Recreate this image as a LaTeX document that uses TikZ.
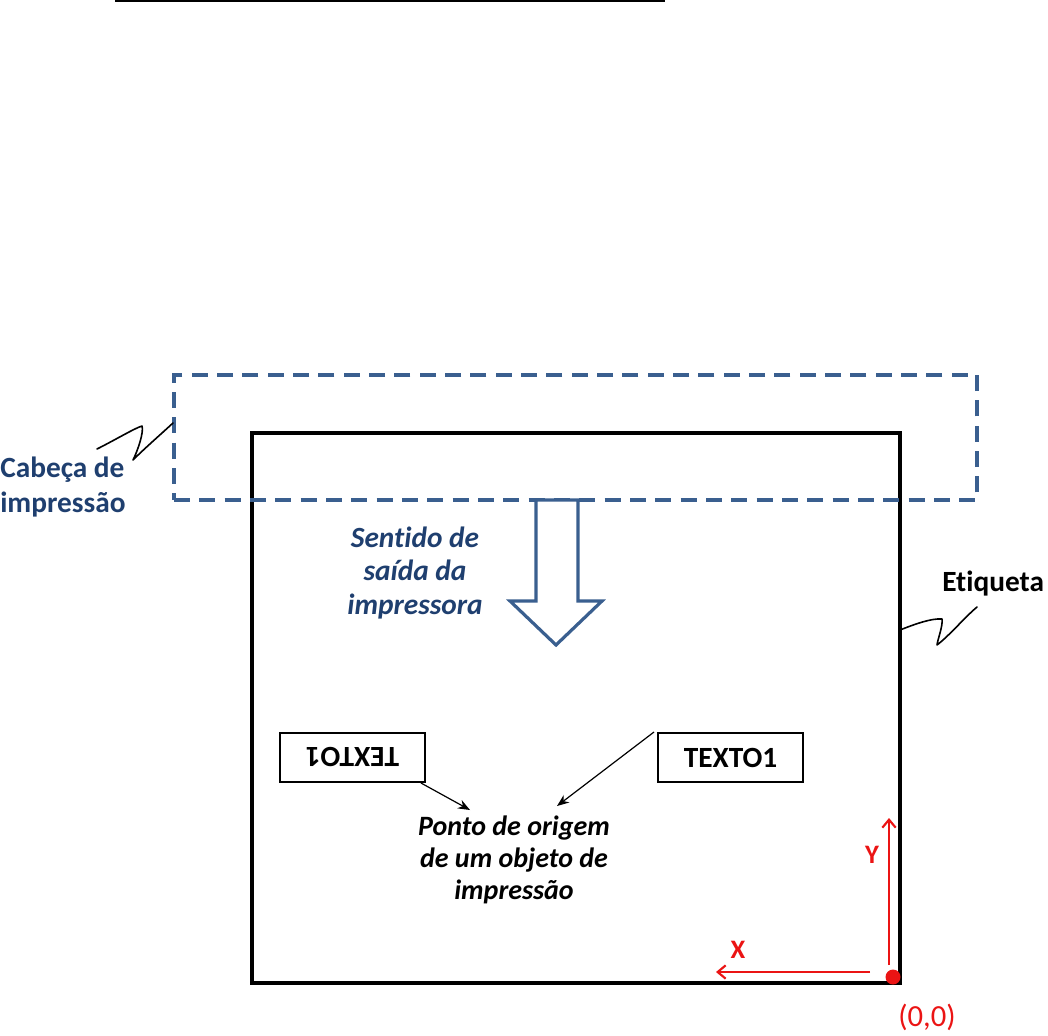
\documentclass[tikz,border=0pt]{standalone}
\usepackage{fontspec}
\setmainfont[Ligatures={NoCommon}]{Carlito}
\usetikzlibrary{arrows.meta}
\definecolor{headblue}{RGB}{58,95,143}
\definecolor{txtblue}{RGB}{31,63,111}
\definecolor{axred}{RGB}{235,20,20}
\tikzset{
  px/.style={x=0.75pt,y=-0.75pt},
  lbl/.style={font=\fontsize{22}{26}\selectfont\bfseries, inner sep=0pt},
  ilbl/.style={font=\fontsize{22}{25}\selectfont\bfseries\itshape, inner sep=0pt, align=center},
  txtbox/.style={draw=black, line width=1.5pt, minimum width=145*0.75pt, minimum height=49*0.75pt, inner sep=0pt, font=\fontsize{22}{26}\selectfont\bfseries},
  zig/.style={draw=black, line width=1.2pt, line cap=round, line join=round},
  ptr/.style={draw=black, line width=0.9pt, -{Stealth[length=9pt,width=7pt]}},
  axis/.style={draw=axred, line width=1.6pt, -{Straight Barb[length=6pt,width=10pt]}},
}
\begin{document}
\begin{tikzpicture}[px]
\useasboundingbox (0,0) rectangle (1048,1035);
% top line
\draw[line width=2pt] (115,1) -- (665,1);
% label (etiqueta)
\node[draw=black, line width=2.7pt, minimum width=648*0.75pt, minimum height=550*0.75pt, inner sep=0pt] (label) at (576,708) {};
% print head
\node[draw=headblue, line width=2.6pt, dash pattern=on 12pt off 7pt, minimum width=803*0.75pt, minimum height=125*0.75pt, inner sep=0pt] (head) at (575.5,437.5) {};
% hollow arrow
\draw[draw=headblue, line width=2.4pt, fill=white, line join=miter]
  (536,500) -- (578,500) -- (578,601) -- (602,601) -- (556,645) -- (510,601) -- (536,601) -- cycle;
\node[ilbl, text=txtblue] (sentido) at (415,573) {Sentido de\\saída da\\impressora};
% Cabeça label
\node[lbl, text=txtblue, align=left, anchor=west] (cab) at (0,487) {Cabeça de\\impressão};
\coordinate (z1a) at (97,449);
\coordinate (z1b) at (173,423);
\draw[zig] (z1a) .. controls (115,440) and (135,428) .. (142,426) .. controls (144,432) and (138,450) .. (133,460) .. controls (145,448) and (160,435) .. (z1b);
% Etiqueta label
\node[lbl, anchor=west] (etq) at (942,584) {Etiqueta};
\coordinate (z2a) at (900,630);
\coordinate (z2b) at (977,607);
\draw[zig] (z2a) .. controls (915,624) and (932,618) .. (942,619) .. controls (943,626) and (938,638) .. (937,645) .. controls (950,635) and (965,617) .. (z2b);
% text boxes
\node[txtbox] (t1) at (352.5,757.5) {};
\node[font=\fontsize{22}{26}\selectfont\bfseries, rotate=180] at (t1.center) {TEXTO1};
\node[txtbox] (t2) at (730.5,757.5) {TEXTO1};
\node[ilbl, text=black, font=\fontsize{21}{24}\selectfont\bfseries\itshape] (ponto) at (514,860) {Ponto de origem\\de um objeto de\\impressão};
\coordinate (p1) at (470,810);
\coordinate (p2) at (557,806);
\draw[ptr] (t1.south east) ++(-5,0) -- (p1);
\draw[ptr] (t2.north west) ++(-3,0) -- (p2);
% axes
\coordinate (o) at (893,977);
\coordinate (yend) at (889,818);
\coordinate (xend) at (716,972);
\draw[axis] (889,965) -- (yend);
\draw[axis] (870,972) -- (xend);
\fill[axred] (o) circle (7.5);
\node[lbl, text=axred, font=\fontsize{20}{24}\selectfont\bfseries] (ylab) at (872,855) {Y};
\node[lbl, text=axred, font=\fontsize{20}{24}\selectfont\bfseries] (xlab) at (738,950) {X};
\node[lbl, text=axred, font=\fontsize{23}{27}\selectfont] (olab) at (927,1017) {(0,0)};
\end{tikzpicture}
\end{document}
